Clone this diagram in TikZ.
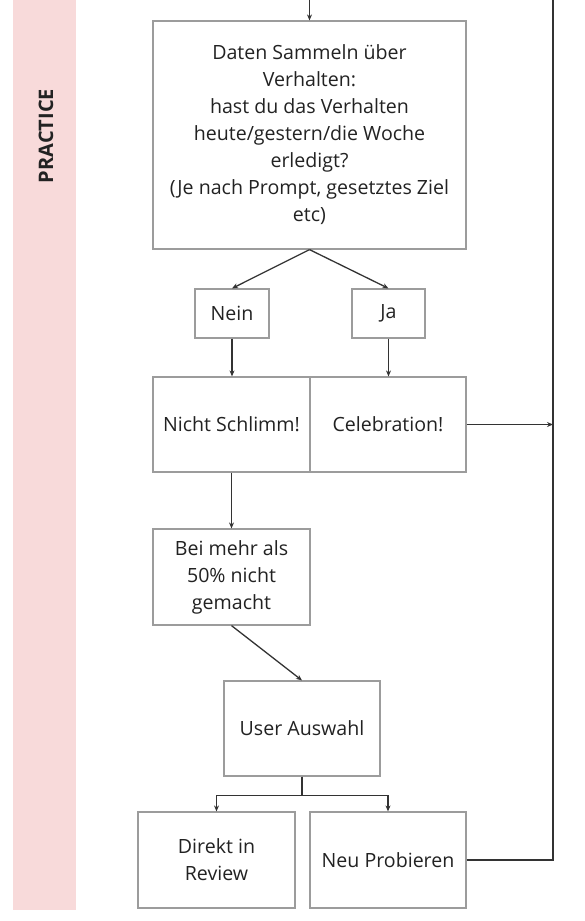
\documentclass[tikz,border=0pt]{standalone}
\usepackage{fontspec}
\setmainfont{Open Sans}
\usetikzlibrary{arrows.meta}
\definecolor{lanepink}{HTML}{F8DADA}
\definecolor{boxgray}{HTML}{9C9C9C}
\definecolor{linegray}{HTML}{333333}
\definecolor{txtgray}{HTML}{222222}
\tikzset{
  box/.style={draw=boxgray,line width=1.2pt,align=center,inner sep=0pt,
    text=txtgray,font=\fontsize{19.6}{27}\selectfont},
  line/.style={draw=linegray,line width=1.3pt},
  >={Stealth[length=6pt,width=5pt]}
}

\begin{document}
\begin{tikzpicture}[x=1pt,y=-1pt]
  \useasboundingbox (0,0) rectangle (585,921);
  \fill[lanepink] (13,0) rectangle (76,910);
  \node (lane) at (46,136) [rotate=90,text=txtgray,font=\fontsize{20}{24}\selectfont\bfseries] {PRACTICE};

  \node (data) at (309.5,135) [box,minimum width=313,minimum height=228]
    {Daten Sammeln über\\Verhalten:\\hast du das Verhalten\\heute/gestern/die Woche\\erledigt?\\(Je nach Prompt, gesetztes Ziel\\etc)};
  \node (nein) at (232,313.5) [box,minimum width=74,minimum height=49] {Nein};
  \node (ja) at (388.5,313.5) [box,minimum width=73,minimum height=49] {Ja};
  \node (nicht) at (231.5,424.5) [box,minimum width=157,minimum height=95] {Nicht Schlimm!};
  \node (celeb) at (388,424.5) [box,minimum width=156,minimum height=95] {Celebration!};
  \node (bei) at (231.5,577) [box,minimum width=157,minimum height=96] {Bei mehr als\\50\% nicht\\gemacht};
  \node (user) at (302,728.5) [box,minimum width=156,minimum height=95] {User Auswahl};
  \node (direkt) at (216.5,860) [box,minimum width=157,minimum height=96] {Direkt in\\Review};
  \node (neu) at (388,860) [box,minimum width=156,minimum height=96] {Neu Probieren};

  \coordinate (in) at (309.5,0);
  \coordinate (back) at (553,0);

  \draw[line,->] (in) -- (data.north);
  \draw[line,->] (data.south) -- (nein.north);
  \draw[line,->] (data.south) -- (ja.north);
  \draw[line,->] (nein.south) -- (nicht.north -| nein.south);
  \draw[line,->] (ja.south) -- (celeb.north -| ja.south);
  \draw[line,->] (nicht.south -| bei) -- (bei.north);
  \draw[line,->] (bei.south) -- (user.north);
  \draw[line,->] (user.south) -- ++(0,19) -| (direkt.north);
  \draw[line,->] (user.south) -- ++(0,19) -| (neu.north);
  \draw[line,->] (celeb.east) -- (celeb.east -| back);
  \draw[line] (neu.east) -- (neu.east -| back) -- (back);
\end{tikzpicture}
\end{document}
